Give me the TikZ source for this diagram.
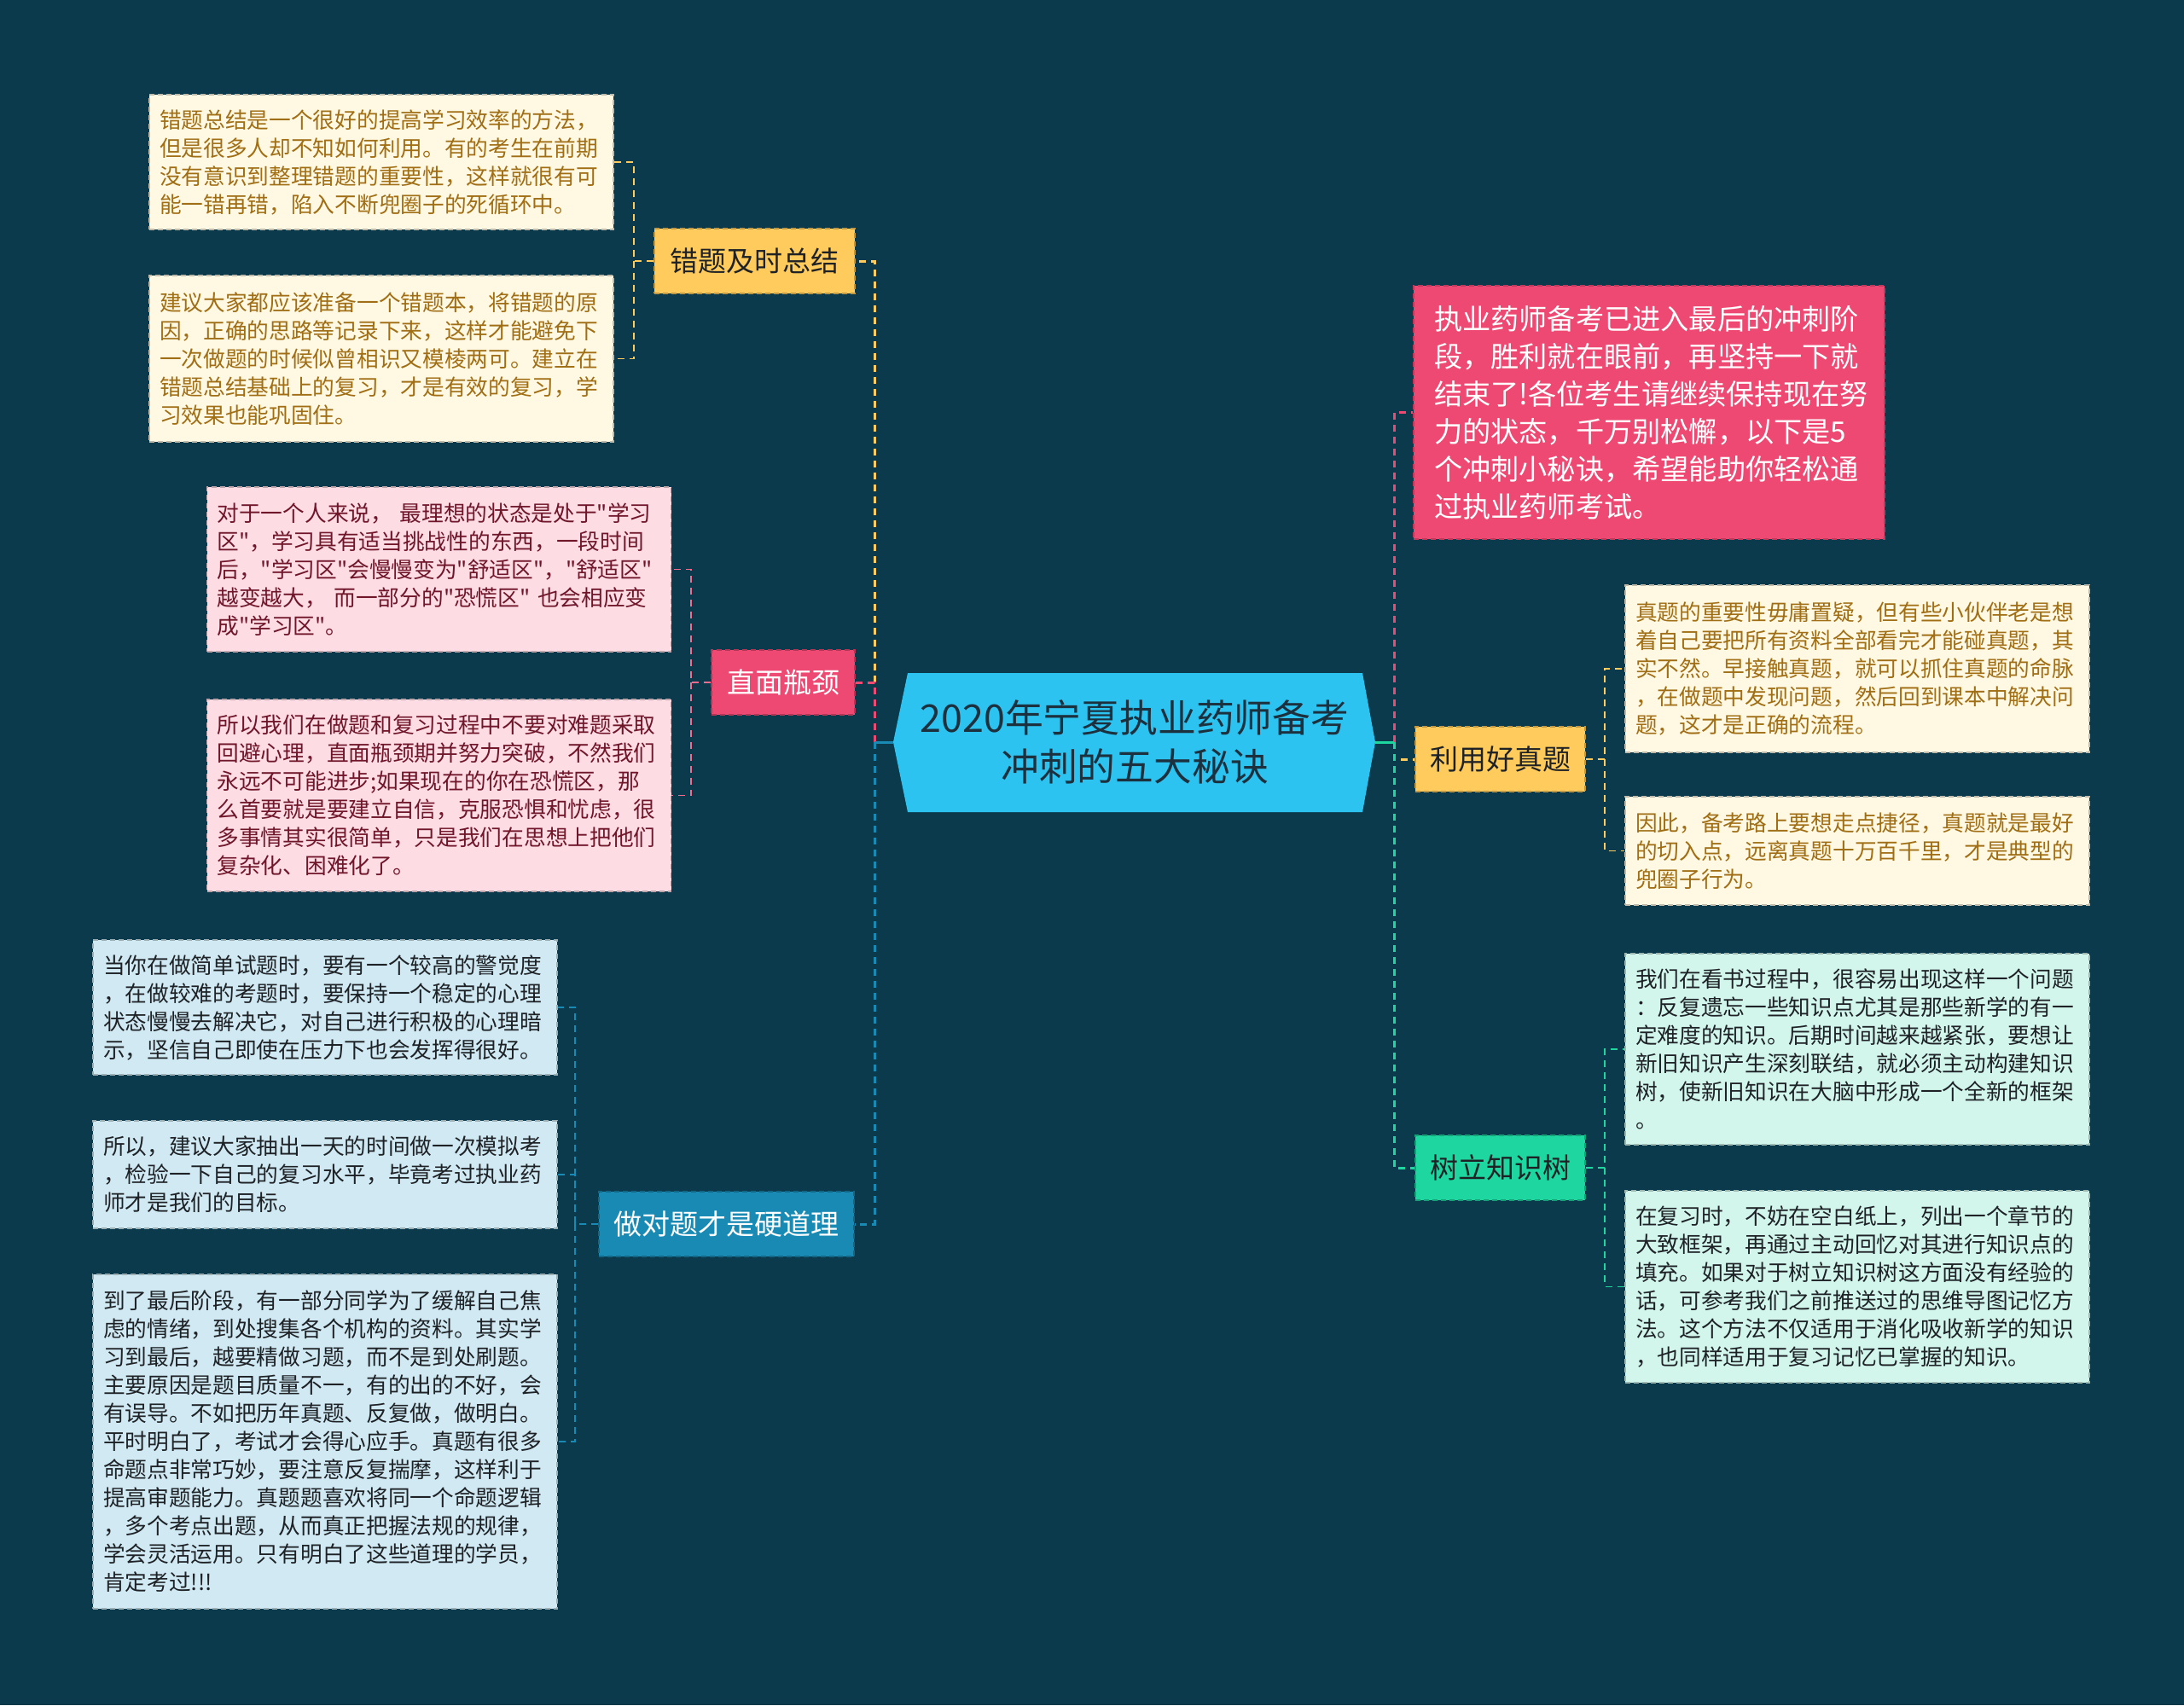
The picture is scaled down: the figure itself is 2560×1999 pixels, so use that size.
\documentclass[tikz,border=0pt]{standalone}
\usepackage{fontspec}
\setmainfont{Noto Sans CJK SC}[Ligatures=TeXOff]
\usepackage{xcolor}
\usepackage{tikz}
\usetikzlibrary{positioning, calc}
\definecolor{bgteal}{RGB}{11,58,77}
\definecolor{hubblue}{RGB}{45,195,240}
\definecolor{hubtext}{RGB}{28,48,62}
\definecolor{yellowacc}{RGB}{254,203,92}
\definecolor{pinkacc}{RGB}{238,73,115}
\definecolor{blueacc}{RGB}{24,138,180}
\definecolor{greenacc}{RGB}{30,214,160}
\definecolor{creamfill}{RGB}{255,248,226}
\definecolor{creamtext}{RGB}{160,110,20}
\definecolor{rosefill}{RGB}{253,220,228}
\definecolor{rosetext}{RGB}{112,22,42}
\definecolor{skyfill}{RGB}{208,233,242}
\definecolor{mintfill}{RGB}{210,246,236}
\definecolor{darktext}{RGB}{30,34,38}
\tikzset{
  note/.style={draw, dash pattern=on 3pt off 2pt, line width=0.6pt, align=left, text width=260pt, inner xsep=6pt, inner ysep=0pt, minimum width=272pt, font={\fontsize{12.85pt}{16.5pt}\selectfont}},
  notey/.style={note, fill=creamfill, draw=creamfill!75!black, text=creamtext},
  noter/.style={note, fill=rosefill, draw=rosefill!75!black, text=rosetext},
  noteb/.style={note, fill=skyfill, draw=skyfill!75!black, text=darktext},
  noteg/.style={note, fill=mintfill, draw=mintfill!75!black, text=darktext},
  intro/.style={note, fill=pinkacc, draw=pinkacc!80!black, text=white, text width=252pt, inner xsep=12pt, minimum width=276pt, font={\fontsize{16.6pt}{22pt}\selectfont}},
  branch/.style={draw, dash pattern=on 3pt off 2pt, line width=0.6pt, minimum height=38pt, inner xsep=0pt, font={\fontsize{16.5pt}{20pt}\selectfont}},
  bry/.style={branch, fill=yellowacc, draw=yellowacc!75!black, text=darktext},
  brp/.style={branch, fill=pinkacc, draw=pinkacc!75!black, text=white},
  brb/.style={branch, fill=blueacc, draw=blueacc!75!black, text=white},
  brg/.style={branch, fill=greenacc, draw=greenacc!75!black, text=darktext},
  hub/.style={align=center, text=hubtext, font={\fontsize{22.4pt}{28.5pt}\selectfont}},
  trunk/.style={line width=1.5pt, dash pattern=on 4pt off 3pt},
  twig/.style={line width=0.8pt, dash pattern=on 4pt off 3pt},
}

\begin{document}
\begin{tikzpicture}[x=0.5pt, y=-0.5pt]
  \fill[bgteal] (0,0) rectangle (2560,1999);

  \coordinate (hubL) at (1047,870);
  \coordinate (hubR) at (1612,870);
  \fill[hubblue] (1064,789) -- (1597,789) -- (hubR) -- (1597,952) -- (1064,952) -- (hubL) -- cycle;
  \node[hub] (hub) at (1330,870) {2020年宁夏执业药师备考\\冲刺的五大秘诀};

  \node[bry, minimum width=117.5pt] (brA) at (884.5,306) {错题及时总结};
  \node[brp, minimum width=84pt] (brB) at (918,800) {直面瓶颈};
  \node[brb, minimum width=149.5pt] (brC) at (851.5,1435) {做对题才是硬道理};
  \node[bry, minimum width=99.5pt] (brD) at (1758.5,890) {利用好真题};
  \node[brg, minimum width=99.5pt] (brE) at (1758.5,1369) {树立知识树};

  \node[notey, minimum height=79pt] (nA1) at (447,190) {错题总结是一个很好的提高学习效率的方法，\\但是很多人却不知如何利用。有的考生在前期\\没有意识到整理错题的重要性，这样就很有可\\能一错再错，陷入不断兜圈子的死循环中。};
  \node[notey, minimum height=97.5pt] (nA2) at (447,420.5) {建议大家都应该准备一个错题本，将错题的原\\因，正确的思路等记录下来，这样才能避免下\\一次做题的时候似曾相识又模棱两可。建立在\\错题总结基础上的复习，才是有效的复习，学\\习效果也能巩固住。};
  \node[noter, minimum height=96.5pt] (nB1) at (514.5,667.5) {对于一个人来说， 最理想的状态是处于"学习\\区"，学习具有适当挑战性的东西，一段时间\\后，"学习区"会慢慢变为"舒适区"，"舒适区"\\越变越大， 而一部分的"恐慌区" 也会相应变\\成"学习区"。};
  \node[noter, minimum height=112.5pt] (nB2) at (514.5,932.5) {所以我们在做题和复习过程中不要对难题采取\\回避心理，直面瓶颈期并努力突破，不然我们\\永远不可能进步;如果现在的你在恐慌区，那\\么首要就是要建立自信，克服恐惧和忧虑，很\\多事情其实很简单，只是我们在思想上把他们\\复杂化、困难化了。};
  \node[noteb, minimum height=79pt] (nC1) at (381,1181) {当你在做简单试题时，要有一个较高的警觉度\\，在做较难的考题时，要保持一个稳定的心理\\状态慢慢去解决它，对自己进行积极的心理暗\\示，坚信自己即使在压力下也会发挥得很好。};
  \node[noteb, minimum height=63pt] (nC2) at (381,1377) {所以，建议大家抽出一天的时间做一次模拟考\\，检验一下自己的复习水平，毕竟考过执业药\\师才是我们的目标。};
  \node[noteb, minimum height=196pt] (nC3) at (381,1690) {到了最后阶段，有一部分同学为了缓解自己焦\\虑的情绪，到处搜集各个机构的资料。其实学\\习到最后，越要精做习题，而不是到处刷题。\\主要原因是题目质量不一，有的出的不好，会\\有误导。不如把历年真题、反复做，做明白。\\平时明白了，考试才会得心应手。真题有很多\\命题点非常巧妙，要注意反复揣摩，这样利于\\提高审题能力。真题题喜欢将同一个命题逻辑\\，多个考点出题，从而真正把握法规的规律，\\学会灵活运用。只有明白了这些道理的学员，\\肯定考过!!!};

  \node[intro, minimum height=148.5pt] (nP) at (1933,483.5) {执业药师备考已进入最后的冲刺阶\\段，胜利就在眼前，再坚持一下就\\结束了!各位考生请继续保持现在努\\力的状态，千万别松懈，以下是5\\个冲刺小秘诀，希望能助你轻松通\\过执业药师考试。};
  \node[notey, minimum height=98pt] (nD1) at (2177,784) {真题的重要性毋庸置疑，但有些小伙伴老是想\\着自己要把所有资料全部看完才能碰真题，其\\实不然。早接触真题，就可以抓住真题的命脉\\，在做题中发现问题，然后回到课本中解决问\\题，这才是正确的流程。};
  \node[notey, minimum height=63.5pt] (nD2) at (2177,997.5) {因此，备考路上要想走点捷径，真题就是最好\\的切入点，远离真题十万百千里，才是典型的\\兜圈子行为。};
  \node[noteg, minimum height=112pt] (nE1) at (2177,1230) {我们在看书过程中，很容易出现这样一个问题\\：反复遗忘一些知识点尤其是那些新学的有一\\定难度的知识。后期时间越来越紧张，要想让\\新旧知识产生深刻联结，就必须主动构建知识\\树，使新旧知识在大脑中形成一个全新的框架\\。};
  \node[noteg, minimum height=112.5pt] (nE2) at (2177,1508.5) {在复习时，不妨在空白纸上，列出一个章节的\\大致框架，再通过主动回忆对其进行知识点的\\填充。如果对于树立知识树这方面没有经验的\\话，可参考我们之前推送过的思维导图记忆方\\法。这个方法不仅适用于消化吸收新学的知识\\，也同样适用于复习记忆已掌握的知识。};

  \coordinate (jL) at (1025,870);
  \coordinate (jR) at (1634,870);
  \coordinate (kA) at (743,306);
  \coordinate (kB) at (810,800);
  \coordinate (kC) at (674,1435);
  \coordinate (kD) at (1881,890);
  \coordinate (kE) at (1881,1369);

  \draw[trunk, yellowacc] (jL) |- (brA.east);
  \draw[trunk, pinkacc] (jL) |- (brB.east);
  \draw[trunk, blueacc] (jL) |- (brC.east);
  \draw[line width=1.5pt, blueacc] (hubL) -- (jL);

  \draw[trunk, pinkacc] (jR) |- (nP.west);
  \draw[trunk, yellowacc] (jR) |- (brD.west);
  \draw[trunk, greenacc] (jR) |- (brE.west);
  \draw[line width=1.5pt, greenacc] (hubR) -- (jR);

  \draw[twig, yellowacc] (brA.west) -- (kA) |- (nA1.east);
  \draw[twig, yellowacc] (kA) |- (nA2.east);
  \draw[twig, pinkacc!80!white] (brB.west) -- (kB) |- (nB1.east);
  \draw[twig, pinkacc!80!white] (kB) |- (nB2.east);
  \draw[twig, blueacc] (brC.west) -- (kC) |- (nC1.east);
  \draw[twig, blueacc] (kC) |- (nC2.east);
  \draw[twig, blueacc] (kC) |- (nC3.east);
  \draw[twig, yellowacc] (brD.east) -- (kD) |- (nD1.west);
  \draw[twig, yellowacc] (kD) |- (nD2.west);
  \draw[twig, greenacc] (brE.east) -- (kE) |- (nE1.west);
  \draw[twig, greenacc] (kE) |- (nE2.west);
\end{tikzpicture}
\end{document}
